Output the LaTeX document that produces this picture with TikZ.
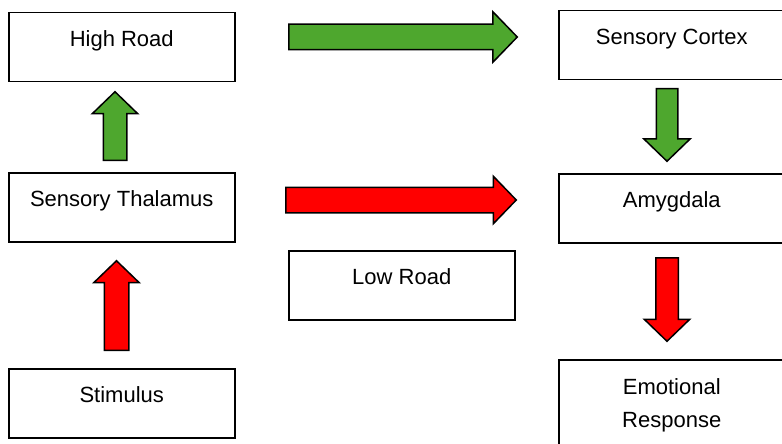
\documentclass[tikz,border=0pt]{standalone}
\usepackage{fontspec}
\setmainfont{Liberation Sans}
\usepackage{tikz}
\usetikzlibrary{positioning,shapes.arrows}
\definecolor{roadgreen}{RGB}{78,167,46}
\definecolor{roadred}{RGB}{255,0,0}
\tikzset{block/.style={draw,line width=1.5pt,minimum width=226pt,inner sep=0pt,anchor=north west,
           text height=34pt,text depth=35pt,align=center,font=\fontsize{22pt}{33pt}\selectfont},
         fat/.style={single arrow,draw,line width=1.5pt,inner xsep=0pt,minimum width=0pt,anchor=tail,
           single arrow tip angle=92,single arrow head indent=0pt}
}
\tikzstyle{goarrow} = [fat,fill=roadgreen]
\tikzstyle{stoparrow} = [fat,fill=roadred]

\begin{document}
\begin{tikzpicture}[x=1pt,y=-1pt]
\useasboundingbox (0,0) rectangle (782,444);

\node[block] (high) at (8,12) {High Road};
\node[block] (cortex) at (558,10) {Sensory Cortex};
\node[block] (thal) at (8,172) {Sensory Thalamus};
\node[block] (amyg) at (558,173) {Amygdala};
\node[block] (low) at (288,250) {Low Road};
\node[block] (stim) at (8,368) {Stimulus};
\node[block,text height=68pt,text depth=30pt] (resp) at (558,359) {Emotional\\Response};

% high road
\node[goarrow,minimum height=228.5pt,inner ysep=12pt,single arrow head extend=12.5pt] (hiarr) at (288,37) {};
\node[goarrow,rotate=90,minimum height=68.5pt,inner ysep=11pt,single arrow head extend=11pt] (uparr) at (115,161) {};
\node[goarrow,rotate=-90,minimum height=72.5pt,inner ysep=10pt,single arrow head extend=12.5pt] (dnarr) at (667,88) {};
% low road
\node[stoparrow,minimum height=230.5pt,inner ysep=12pt,single arrow head extend=11pt] (loarr) at (285,200) {};
\node[stoparrow,rotate=90,minimum height=89.5pt,inner ysep=11.5pt,single arrow head extend=10.5pt] (stimarr) at (116.5,351) {};
\node[stoparrow,rotate=-90,minimum height=83.5pt,inner ysep=10.5pt,single arrow head extend=11.5pt] (resparr) at (667,257) {};

\end{tikzpicture}
\end{document}
